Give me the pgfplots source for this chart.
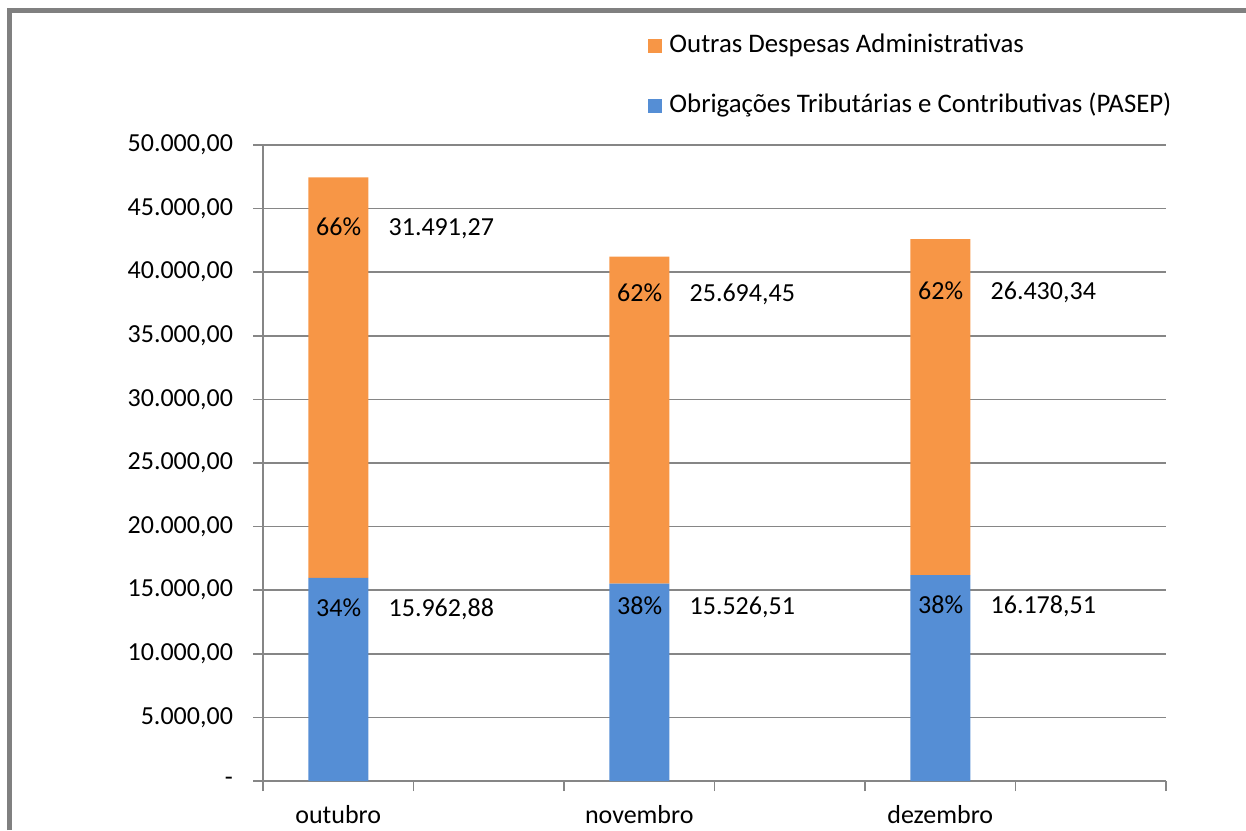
\documentclass[border=0pt]{standalone}
\usepackage{fontspec}
\setmainfont{Carlito}
\usepackage{pgfplots}
\usepackage{pgfplotstable}
\pgfplotsset{compat=1.18}

\definecolor{barblue}{RGB}{85,142,213}
\definecolor{barorange}{RGB}{247,150,70}
\definecolor{linegray}{RGB}{134,134,134}
\definecolor{framegray}{RGB}{128,128,128}

% x pos, values, shares (%), label drop below segment top (pt)
\pgfplotstableread{
x blue orange pctb pcto dyb dyo
0 15962.88 31491.27 34 66 15.5 25.5
2 15526.51 25694.45 38 62 12 19
4 16178.51 26430.34 38 62 15.5 26.5
}\datatable

\begin{document}
\begin{tikzpicture}
\path[use as bounding box] (0,0) rectangle (623pt,415pt);
% outer chart frame
\draw[framegray, line width=2.5pt] (4.75pt,0) -- (4.75pt,409.75pt) -- (630pt,409.75pt);

\begin{axis}[
    at={(131.5pt,24.5pt)}, anchor=south west,
    scale only axis,
    width=451.5pt, height=318pt,
    font=\fontsize{13}{15}\selectfont,
    xmin=-0.5, xmax=5.5,
    ymin=0, ymax=50000,
    scaled y ticks=false,
    axis x line*=bottom, axis y line*=left,
    axis line style={draw=linegray, line width=0.8pt},
    tick style={draw=linegray, line width=0.8pt},
    tick align=outside,
    major tick length=5pt,
    xtick={-0.5,0.5,1.5,2.5,3.5,4.5,5.5},
    xticklabels={,,,,,,},
    extra x ticks={0,2,4},
    extra x tick labels={outubro,novembro,dezembro},
    extra x tick style={major tick length=0pt, xticklabel style={yshift=-8.5pt}},
    ytick={0,5000,...,50000},
    yticklabels={-\hspace{6.5pt},{5.000,00},{10.000,00},{15.000,00},{20.000,00},{25.000,00},{30.000,00},{35.000,00},{40.000,00},{45.000,00},{50.000,00}},
    yticklabel style={xshift=-6.5pt},
    ymajorgrids=true,
    grid style={draw=linegray, line width=0.8pt},
    /pgf/number format/.cd, fixed, fixed zerofill, precision=2, use comma, 1000 sep={.}, assume math mode=true,
    /pgfplots/.cd,
    ybar stacked,
    bar width=30pt,
    nodes near coords={\makebox[30pt][c]{\pgfmathprintnumber[fixed, precision=0, fixed zerofill=false]{\pct}\%}\hspace{10pt}\pgfmathprintnumber{\pgfplotspointmeta}},
    % nodes sit at segment middle: move them up to dy below the segment top
    every node near coord/.append style={anchor=west, xshift=-15pt, yshift=\dy pt, inner sep=0pt, font=\fontsize{13}{15}\selectfont, text=black},
    point meta=explicit,
    reverse legend,
    legend cell align=left,
    legend image code/.code={\fill[#1] (0pt,-3.5pt) rectangle (7pt,3.5pt);},
    legend style={at={(0.4264,1.1745)}, anchor=north west, draw=none, fill=none,
        inner sep=0pt, row sep=18pt,
        nodes={inner sep=0pt, text height=9pt, text depth=3pt, font=\fontsize{13.4}{15}\selectfont},
        /tikz/every odd column/.append style={column sep=3.5pt}},
]
\addplot[fill=barblue, draw=none,
    visualization depends on={\thisrow{pctb} \as \pct},
    visualization depends on={\thisrow{blue}*0.00318-\thisrow{dyb} \as \dy}]
    table[x=x, y=blue, meta=blue] {\datatable};
\addplot[fill=barorange, draw=none,
    visualization depends on={\thisrow{pcto} \as \pct},
    visualization depends on={\thisrow{orange}*0.00318-\thisrow{dyo} \as \dy}]
    table[x=x, y=orange, meta=orange] {\datatable};
\legend{Obrigações Tributárias e Contributivas (PASEP), Outras Despesas Administrativas}
\end{axis}
\end{tikzpicture}
\end{document}
